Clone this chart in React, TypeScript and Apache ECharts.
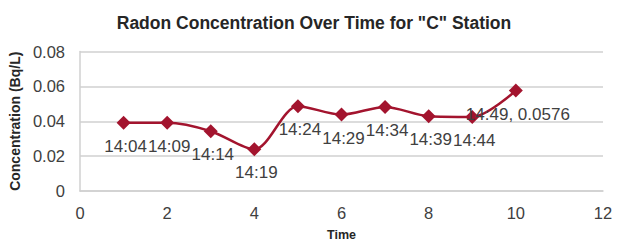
import React, { useEffect, useRef } from "react";
import * as echarts from "echarts";

const titleText = 'Radon Concentration Over Time for "C" Station';
const xAxisName = "Time";
const yAxisName = "Concentration (Bq/L)";
const xPositions = [1, 2, 3, 4, 5, 6, 7, 8, 9, 10];
const timeLabels = ["14:04", "14:09", "14:14", "14:19", "14:24", "14:29", "14:34", "14:39", "14:44", "14:49"];
const concentrations = [0.0391, 0.0391, 0.0343, 0.0239, 0.0486, 0.0438, 0.0482, 0.0429, 0.0425, 0.0576];
const valueShownIndex = 9;

const FONT = "'Liberation Sans', Arial, sans-serif";
const TEXT = "#404040";
const LINE = "#A3142E";

export default function App() {
  const ref = useRef<HTMLDivElement>(null);
  useEffect(() => {
    if (!ref.current) return;
    const chart = echarts.init(ref.current, undefined, { renderer: "svg" });
    const data = xPositions.map((x, i) => ({ value: [x, concentrations[i]], name: timeLabels[i] }));
    chart.setOption({
      animation: false,
      backgroundColor: "#ffffff",
      title: {
        text: titleText,
        left: 309,
        top: 9,
        textAlign: "center",
        textStyle: { fontFamily: FONT, fontSize: 17.5, fontWeight: "bold", color: "#262626" },
      },
      grid: { left: 78.5, right: 19, top: 51.5, bottom: 54, containLabel: false },
      xAxis: {
        type: "value",
        min: 0,
        max: 12,
        interval: 2,
        name: xAxisName,
        nameLocation: "middle",
        nameGap: 37,
        nameTextStyle: { fontFamily: FONT, fontSize: 12.5, fontWeight: "bold", color: "#262626" },
        axisLine: { show: true, lineStyle: { color: "#d0d0d0", width: 1.5 } },
        axisTick: { show: false },
        splitLine: { show: false },
        axisLabel: { fontFamily: FONT, fontSize: 16.5, color: TEXT, margin: 13 },
      },
      yAxis: {
        type: "value",
        min: 0,
        max: 0.08,
        interval: 0.02,
        name: yAxisName,
        nameLocation: "middle",
        nameGap: 50,
        nameRotate: 90,
        nameTextStyle: { fontFamily: FONT, fontSize: 14, fontWeight: "bold", color: "#262626" },
        axisLine: { show: true, lineStyle: { color: "#d0d0d0", width: 1.5 } },
        axisTick: { show: false },
        splitLine: { show: true, lineStyle: { color: "#d0d0d0", width: 1.5 } },
        axisLabel: {
          fontFamily: FONT,
          fontSize: 16.5,
          color: TEXT,
          margin: 15,
          formatter: (v: number) => (v === 0 ? "0" : String(Number(v.toFixed(2)))),
        },
      },
      series: [
        {
          type: "line",
          data,
          smooth: 0.3,
          symbol: "diamond",
          symbolSize: 14,
          itemStyle: { color: LINE },
          lineStyle: { color: LINE, width: 2.5 },
          label: {
            show: true,
            position: "bottom",
            distance: 8,
            offset: [2, 0],
            fontFamily: FONT,
            fontSize: 17,
            color: TEXT,
            formatter: (p: any) =>
              p.dataIndex === valueShownIndex ? `${p.name}, ${p.value[1]}` : p.name,
          },
        },
      ],
    });
    return () => chart.dispose();
  }, []);
  return (
    <div
      ref={ref}
      style={{ position: "fixed", left: 0, top: 0, width: 622, height: 246 }}
    />
  );
}
